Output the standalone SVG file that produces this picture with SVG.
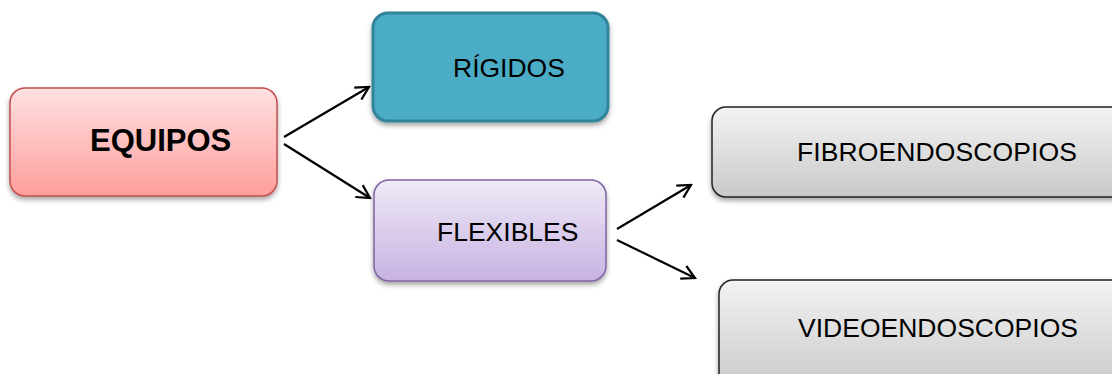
<svg xmlns="http://www.w3.org/2000/svg" width="1112" height="374" viewBox="0 0 1112 374">
<defs>
<linearGradient id="gRed" x1="0" y1="0" x2="0" y2="1"><stop offset="0" stop-color="#ffe1e1"/><stop offset="1" stop-color="#ff9e9c"/></linearGradient>
<linearGradient id="gPurple" x1="0" y1="0" x2="0" y2="1"><stop offset="0" stop-color="#efe9f7"/><stop offset="1" stop-color="#c7b3e2"/></linearGradient>
<linearGradient id="gGray" x1="0" y1="0" x2="0" y2="1"><stop offset="0" stop-color="#f3f3f3"/><stop offset="1" stop-color="#c9c9c9"/></linearGradient>
<filter id="sh" x="-10%" y="-10%" width="120%" height="130%"><feDropShadow dx="0" dy="3" stdDeviation="2.5" flood-color="#000" flood-opacity="0.35"/></filter>
<marker id="arr" viewBox="0 0 16 16" refX="14" refY="8" markerWidth="16" markerHeight="16" markerUnits="userSpaceOnUse" orient="auto"><path d="M1,1 L14,8 L1,15" fill="none" stroke="#000" stroke-width="2.2"/></marker>
</defs>
<style>
.t{font-family:"Liberation Sans",Arial,sans-serif;font-size:26.5px;fill:#000}
.b{font-weight:bold;font-size:31px}
.c{fill:none;stroke:#000;stroke-width:2.2;marker-end:url(#arr)}
</style>
<g id="connectors">
<line class="c" x1="284" y1="137" x2="369" y2="87"/>
<line class="c" x1="284" y1="144" x2="370" y2="198"/>
<line class="c" x1="617" y1="229" x2="691" y2="185"/>
<line class="c" x1="617" y1="240" x2="695" y2="278"/>
</g>
<g id="equipos">
<rect x="10" y="88" width="267" height="108" rx="15" fill="url(#gRed)" stroke="#c0504d" stroke-width="1.5" filter="url(#sh)"/>
<text class="t b" x="90" y="151">EQUIPOS</text>
</g>
<g id="rigidos">
<rect x="373" y="13" width="235" height="108" rx="15" fill="#4bacc6" stroke="#31849b" stroke-width="3" filter="url(#sh)"/>
<text class="t" x="453" y="77">RÍGIDOS</text>
</g>
<g id="flexibles">
<rect x="374" y="180" width="232" height="101" rx="15" fill="url(#gPurple)" stroke="#8064a2" stroke-width="1.5" filter="url(#sh)"/>
<text class="t" x="437" y="241">FLEXIBLES</text>
</g>
<g id="fibroendoscopios">
<rect x="712" y="107" width="420" height="90" rx="14" fill="url(#gGray)" stroke="#222" stroke-width="1.5" filter="url(#sh)"/>
<text class="t" x="797" y="161" textLength="280">FIBROENDOSCOPIOS</text>
</g>
<g id="videoendoscopios">
<rect x="719" y="280" width="420" height="110" rx="14" fill="url(#gGray)" stroke="#222" stroke-width="1.5" filter="url(#sh)"/>
<text class="t" x="798" y="337" textLength="280">VIDEOENDOSCOPIOS</text>
</g>
</svg>
